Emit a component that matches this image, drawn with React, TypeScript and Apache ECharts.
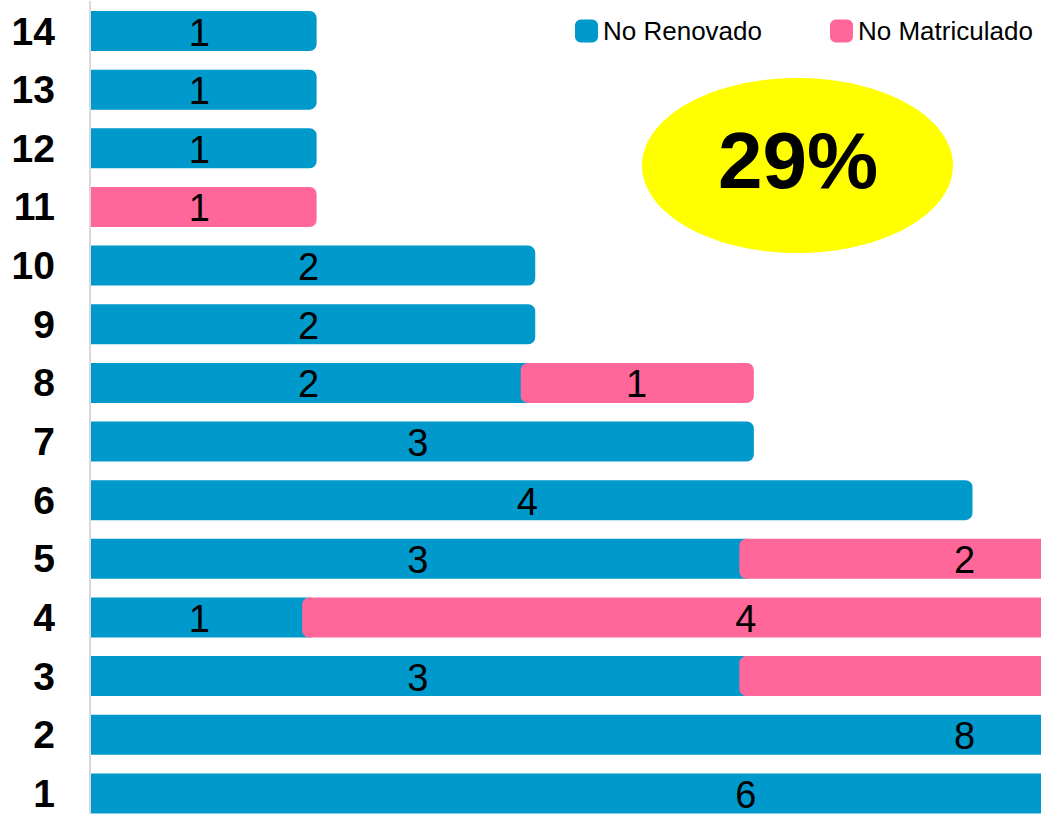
import React, { useEffect, useRef } from "react";
import * as echarts from "echarts";

const categories = ["1", "2", "3", "4", "5", "6", "7", "8", "9", "10", "11", "12", "13", "14"];
const noRenovado = [6, 8, 3, 1, 3, 4, 3, 2, 2, 2, 0, 1, 1, 1];
const noMatriculado = [0, 0, 7, 4, 2, 0, 0, 1, 0, 0, 1, 0, 0, 0];
const seriesNames = ["No Renovado", "No Matriculado"];
const highlightText = "29%";

const BLUE = "#0099CC";
const PINK = "#FF6699";
const FONT = "Arial, 'Liberation Sans', sans-serif";

export default function App() {
  const ref = useRef<HTMLDivElement>(null);

  useEffect(() => {
    document.body.style.margin = "0";
    const chart = echarts.init(ref.current!, undefined, { renderer: "svg" });

    const blueData: number[][] = [];
    const pinkData: number[][] = [];
    categories.forEach((_, i) => {
      const b = noRenovado[i];
      const p = noMatriculado[i];
      if (b > 0) blueData.push([i, 0, b, b]);
      if (p > 0) pinkData.push([i, b, b + p, p]);
    });

    const makeRender = (color: string) => (params: any, api: any) => {
      const cat = api.value(0);
      const start = api.value(1);
      const end = api.value(2);
      const val = api.value(3);
      const p0 = api.coord([start, cat]);
      const p1 = api.coord([end, cat]);
      const h = 40;
      const atZero = start === 0;
      const x0 = atZero ? p0[0] + 1 : p0[0] - 6.5;
      const x1 = p1[0] + 8;
      const cs = params.coordSys;
      const cx = (p0[0] + p1[0]) / 2;
      const children: any[] = [
        {
          type: "rect",
          shape: {
            x: x0,
            y: p0[1] - h / 2,
            width: x1 - x0,
            height: h,
            r: atZero ? [0, 7, 7, 0] : 7,
          },
          style: { fill: color },
        },
      ];
      if (cx < cs.x + cs.width - 10) {
        children.push({
          type: "text",
          x: cx,
          y: p0[1] + 1.5,
          style: {
            text: String(val),
            fill: "#000",
            font: `38px ${FONT}`,
            align: "center",
            verticalAlign: "middle",
          },
        });
      }
      return { type: "group", children };
    };

    chart.setOption({
      animation: false,
      backgroundColor: "#fff",
      grid: { left: 90, right: 0, top: 1.7, height: 821, containLabel: false },
      legend: {
        data: seriesNames,
        orient: "horizontal",
        left: 575,
        top: 18,
        padding: 0,
        icon: "roundRect",
        itemWidth: 23,
        itemHeight: 23,
        itemGap: 68,
        textStyle: { fontSize: 26, fontFamily: FONT, color: "#000" },
        selectedMode: false,
      },
      xAxis: {
        type: "value",
        min: 0,
        max: 4.35,
        show: false,
      },
      yAxis: {
        type: "category",
        data: categories,
        z: 5,
        axisLine: { show: true, lineStyle: { color: "#D9D9D9", width: 2 } },
        axisTick: { show: false },
        axisLabel: {
          fontSize: 39,
          fontWeight: "bold",
          fontFamily: FONT,
          color: "#000",
          margin: 35,
        },
      },
      series: [
        {
          name: seriesNames[0],
          type: "custom",
          itemStyle: { color: BLUE },
          encode: { x: [1, 2], y: 0 },
          data: blueData,
          renderItem: makeRender(BLUE),
        },
        {
          name: seriesNames[1],
          type: "custom",
          itemStyle: { color: PINK },
          encode: { x: [1, 2], y: 0 },
          data: pinkData,
          renderItem: makeRender(PINK),
        },
      ],
      graphic: [
        {
          type: "ellipse",
          shape: { cx: 797.5, cy: 165.5, rx: 155.5, ry: 87.5 },
          style: { fill: "#FFFF00" },
          z: 10,
        },
        {
          type: "text",
          x: 798,
          y: 160,
          z: 11,
          style: {
            text: highlightText,
            font: `bold 80px ${FONT}`,
            fill: "#000",
            align: "center",
            verticalAlign: "middle",
          },
        },
      ],
    });

    return () => chart.dispose();
  }, []);

  return (
    <div style={{ width: 1041, height: 814, overflow: "hidden", background: "#fff" }}>
      <div ref={ref} style={{ width: 1041, height: 830 }} />
    </div>
  );
}
